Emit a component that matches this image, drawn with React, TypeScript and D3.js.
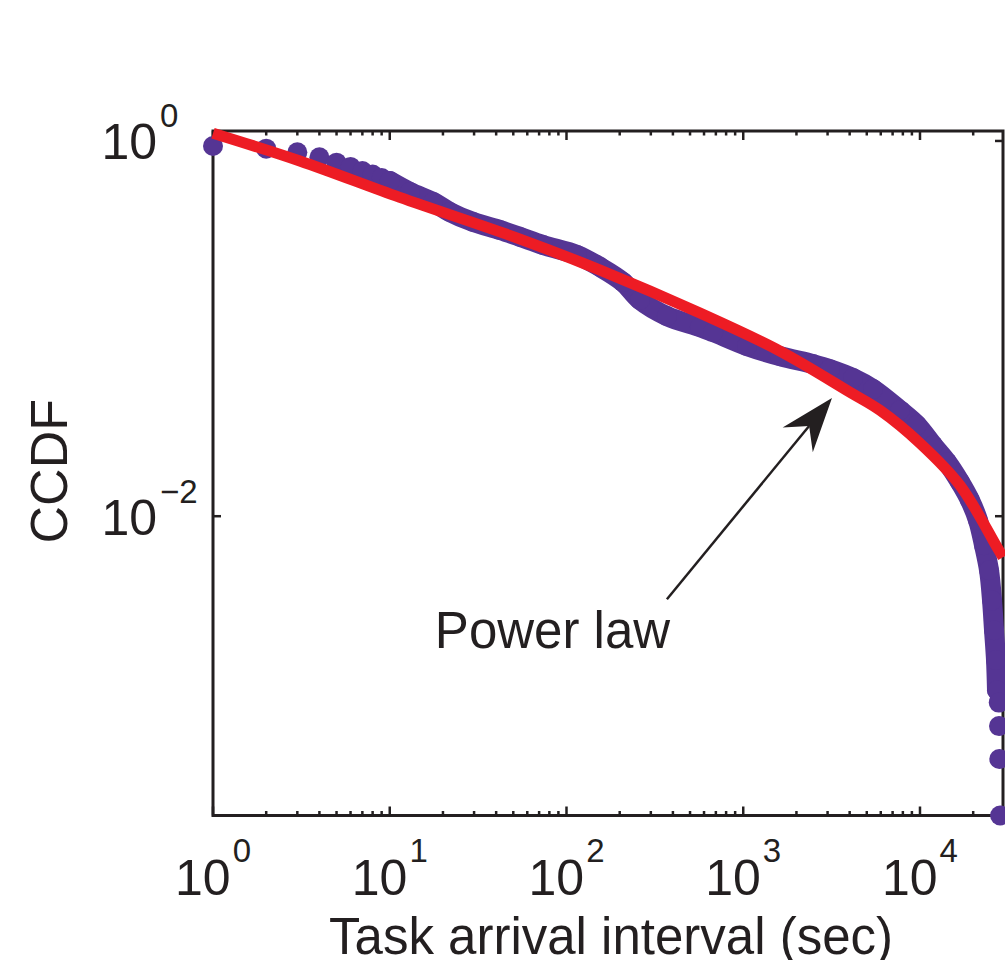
import { useEffect, useRef } from 'react';
import * as d3 from 'd3';

const intervalSec = [
  1, 2, 3, 4, 5, 6, 7, 8, 9, 10,
  13.0, 17.6, 21.9, 29.6, 42.0, 54.6, 73.6, 114.7, 154.7, 208.8,
  260.5, 370, 569, 675, 1050, 1614, 2480, 3096, 4178, 5422,
  7706, 9616, 11850, 14220, 16840, 19180, 21290, 23030, 24580, 25560,
  26230, 26920, 27270, 27900, 28000, 28100, 28400,
];
const ccdf = [
  0.94, 0.91, 0.871, 0.819, 0.766, 0.727, 0.692, 0.663, 0.635, 0.612,
  0.535, 0.473, 0.418, 0.37, 0.335, 0.308, 0.279, 0.247, 0.213, 0.177,
  0.142, 0.1166, 0.1019, 0.0958, 0.0807, 0.0713, 0.0647, 0.0608, 0.0545, 0.0476,
  0.0367, 0.0306, 0.0239, 0.0194, 0.0152, 0.01217, 0.00952, 0.007, 0.00515, 0.00356,
  0.00247, 0.00171, 0.00118, 0.001015, 0.000761, 0.000508, 0.000254,
];

// fitted power law (red curve)
const fitSec = [1, 3.1, 11.4, 54.6, 155, 569, 1614, 4018, 5938, 10000, 16840, 27270, 29490];
const fitCcdf = [1.1, 0.782, 0.5, 0.3, 0.205, 0.121, 0.0759, 0.0458, 0.0367, 0.0245, 0.0146, 0.00684, 0.00604];

const xDomain = [1, 29490];
const yDomain = [2.54e-4, 1.13];
const xTickExps = [0, 1, 2, 3, 4];
const yTickExps = [0, -2];

const xTitle = 'Task arrival interval (sec)';
const yTitle = 'CCDF';

// annotation arrow, in data units
const noteText = 'Power law';
const noteAt = [18.0, 0.00198];
const arrowTail = [370, 0.00361];
const arrowTip = [3177, 0.0426];

const FONT = '"Liberation Sans", Arial, Helvetica, sans-serif';
const INK = '#231f20';
const PURPLE = '#553594';
const RED = '#ed1c24';

const Chart = () => {
  const svgRef = useRef(null);

  useEffect(() => {
    const width = 1005;
    const height = 960;
    const margin = { top: 131, right: 2, bottom: 144.5, left: 213 };

    const svg = d3.select(svgRef.current);
    svg.selectAll('*').remove();
    svg.attr('width', width).attr('height', height);

    const x = d3.scaleLog().domain(xDomain).range([margin.left, width - margin.right]);
    const y = d3.scaleLog().domain(yDomain).range([height - margin.bottom, margin.top]);
    const [x0, x1] = x.range();
    const [y0, y1] = y.range();

    // axes first, data is drawn on top of them
    const axes = svg.append('g').attr('stroke', INK).attr('fill', 'none');
    axes.append('rect')
      .attr('x', x0).attr('y', y1)
      .attr('width', x1 - x0).attr('height', y0 - y1)
      .attr('stroke-width', 3);

    const minor = [];
    xTickExps.forEach(e => {
      for (let m = 2; m <= 9; m++) {
        const v = m * Math.pow(10, e);
        if (v < xDomain[1] * 0.98) minor.push(v);
      }
    });
    const majorX = xTickExps.map(e => Math.pow(10, e));

    const tick = (xs, len) => {
      xs.forEach(v => {
        axes.append('line').attr('x1', x(v)).attr('x2', x(v))
          .attr('y1', y0).attr('y2', y0 - len).attr('stroke-width', 2.5);
        axes.append('line').attr('x1', x(v)).attr('x2', x(v))
          .attr('y1', y1).attr('y2', y1 + len).attr('stroke-width', 2.5);
      });
    };
    tick(majorX, 9);
    tick(minor, 4.5);

    yTickExps.forEach(e => {
      const yy = y(Math.pow(10, e));
      axes.append('line').attr('x1', x0).attr('x2', x0 + 8).attr('y1', yy).attr('y2', yy).attr('stroke-width', 2.5);
      axes.append('line').attr('x1', x1).attr('x2', x1 - 8).attr('y1', yy).attr('y2', yy).attr('stroke-width', 2.5);
    });

    // tick labels as 10^k
    const labels = svg.append('g').attr('fill', INK).style('font-family', FONT);
    xTickExps.forEach(e => {
      const t = labels.append('text')
        .attr('x', x(Math.pow(10, e)))
        .attr('y', 895)
        .attr('text-anchor', 'middle')
        .style('font-size', '50px');
      t.append('tspan').text('10');
      t.append('tspan').attr('dy', -33).attr('dx', 2).style('font-size', '33px').text(String(e));
    });
    yTickExps.forEach(e => {
      const yy = y(Math.pow(10, e));
      labels.append('text')
        .attr('x', 157).attr('y', yy + 18.5)
        .attr('text-anchor', 'end')
        .style('font-size', '50px')
        .text('10');
      labels.append('text')
        .attr('x', 160).attr('y', yy - 13.5)
        .style('font-size', '33px')
        .text(e < 0 ? `\u2212${-e}` : String(e));
    });

    labels.append('text')
      .attr('x', (x0 + x1) / 2 + 3)
      .attr('y', 954)
      .attr('text-anchor', 'middle')
      .style('font-size', '51px')
      .text(xTitle);
    labels.append('text')
      .attr('transform', `translate(67, ${(y0 + y1) / 2 - 2}) rotate(-90)`)
      .attr('text-anchor', 'middle')
      .style('font-size', '52px')
      .text(yTitle);

    // purple CCDF markers, the dense part merges into a band
    const pts = intervalSec.map((v, i) => [v, ccdf[i]]);
    const band = pts.filter(d => d[0] >= 10 && d[1] > 0.0011);
    const bandLine = d3.line()
      .x(d => x(d[0]))
      .y(d => y(d[1]))
      .curve(d3.curveCatmullRom);
    svg.append('path')
      .attr('d', bandLine(band))
      .attr('fill', 'none')
      .attr('stroke', PURPLE)
      .attr('stroke-width', 20)
      .attr('stroke-linejoin', 'round')
      .attr('stroke-linecap', 'round');
    svg.append('g')
      .attr('fill', PURPLE)
      .selectAll('circle')
      .data(pts)
      .enter()
      .append('circle')
        .attr('cx', d => x(d[0]))
        .attr('cy', d => y(d[1]))
        .attr('r', 10);

    // red fitted curve
    const fit = fitSec.map((v, i) => [v, fitCcdf[i]]);
    svg.append('path')
      .attr('d', bandLine(fit))
      .attr('fill', 'none')
      .attr('stroke', RED)
      .attr('stroke-width', 11);

    // annotation
    const tx = x(arrowTip[0]), ty = y(arrowTip[1]);
    const sx = x(arrowTail[0]), sy = y(arrowTail[1]);
    const L = Math.hypot(tx - sx, ty - sy);
    const ux = (tx - sx) / L, uy = (ty - sy) / L;
    const nx = -uy, ny = ux;
    const headLen = 54, headHalf = 19.5, notch = 36;
    svg.append('line')
      .attr('x1', sx).attr('y1', sy)
      .attr('x2', tx - ux * notch).attr('y2', ty - uy * notch)
      .attr('stroke', INK).attr('stroke-width', 2.5);
    const head = [
      [tx, ty],
      [tx - ux * headLen + nx * headHalf, ty - uy * headLen + ny * headHalf],
      [tx - ux * notch, ty - uy * notch],
      [tx - ux * headLen - nx * headHalf, ty - uy * headLen - ny * headHalf],
    ];
    svg.append('path')
      .attr('d', 'M' + head.map(p => p.join(',')).join('L') + 'Z')
      .attr('fill', INK);
    svg.append('text')
      .attr('x', x(noteAt[0]))
      .attr('y', y(noteAt[1]))
      .attr('fill', INK)
      .style('font-family', FONT)
      .style('font-size', '51px')
      .text(noteText);
  }, []);

  return <svg ref={svgRef} style={{ position: 'absolute', left: 0, top: 0, background: '#fff' }} />;
};

export default function App() {
  return <Chart />;
}
